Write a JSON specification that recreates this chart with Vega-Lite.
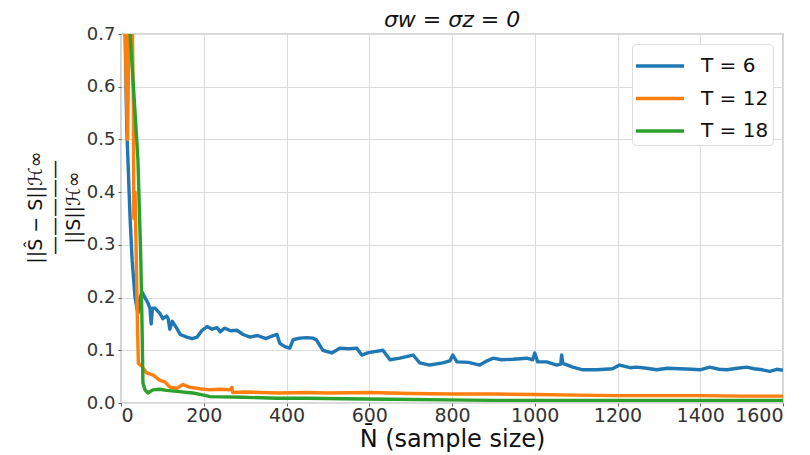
{
  "$schema": "https://vega.github.io/schema/vega-lite/v6.json",
  "width": 662,
  "height": 369,
  "autosize": {"type": "none"},
  "padding": {"left": 121, "top": 34, "right": 27, "bottom": 52},
  "background": "white",
  "title": {"text": "σw = σz = 0", "font": "DejaVu Sans", "fontSize": 22, "fontWeight": "normal", "fontStyle": "italic", "color": "#111", "anchor": "middle", "offset": -7},
  "config": {
    "font": "DejaVu Sans",
    "view": {"stroke": "#666", "strokeWidth": 1.2},
    "axis": {"domain": false, "grid": true, "gridColor": "#dcdcdc", "gridWidth": 1, "tickColor": "#666", "tickSize": 3, "labelFont": "DejaVu Sans", "labelColor": "#333", "titleFont": "DejaVu Sans", "titleFontWeight": "normal", "titleColor": "#111"}
  },
  "data": {"values": [
    {"N":5,"T":"T = 6","v":0.95},{"N":10,"T":"T = 6","v":0.7},{"N":14,"T":"T = 6","v":0.52},{"N":22,"T":"T = 6","v":0.35},{"N":27,"T":"T = 6","v":0.27},{"N":34,"T":"T = 6","v":0.2},{"N":41,"T":"T = 6","v":0.17},{"N":46,"T":"T = 6","v":0.2},{"N":51,"T":"T = 6","v":0.21},{"N":58,"T":"T = 6","v":0.2},{"N":65,"T":"T = 6","v":0.19},{"N":70,"T":"T = 6","v":0.18},{"N":73,"T":"T = 6","v":0.15},{"N":76,"T":"T = 6","v":0.18},{"N":82,"T":"T = 6","v":0.18},{"N":94,"T":"T = 6","v":0.17},{"N":101,"T":"T = 6","v":0.16},{"N":110,"T":"T = 6","v":0.165},{"N":114,"T":"T = 6","v":0.16},{"N":118,"T":"T = 6","v":0.14},{"N":124,"T":"T = 6","v":0.155},{"N":128,"T":"T = 6","v":0.15},{"N":136,"T":"T = 6","v":0.14},{"N":143,"T":"T = 6","v":0.13},{"N":159,"T":"T = 6","v":0.125},{"N":172,"T":"T = 6","v":0.122},{"N":184,"T":"T = 6","v":0.125},{"N":196,"T":"T = 6","v":0.138},{"N":208,"T":"T = 6","v":0.145},{"N":220,"T":"T = 6","v":0.14},{"N":232,"T":"T = 6","v":0.143},{"N":240,"T":"T = 6","v":0.135},{"N":250,"T":"T = 6","v":0.142},{"N":265,"T":"T = 6","v":0.137},{"N":280,"T":"T = 6","v":0.138},{"N":295,"T":"T = 6","v":0.13},{"N":312,"T":"T = 6","v":0.125},{"N":330,"T":"T = 6","v":0.128},{"N":350,"T":"T = 6","v":0.122},{"N":365,"T":"T = 6","v":0.127},{"N":377,"T":"T = 6","v":0.13},{"N":384,"T":"T = 6","v":0.113},{"N":396,"T":"T = 6","v":0.107},{"N":408,"T":"T = 6","v":0.104},{"N":416,"T":"T = 6","v":0.12},{"N":432,"T":"T = 6","v":0.123},{"N":450,"T":"T = 6","v":0.124},{"N":464,"T":"T = 6","v":0.123},{"N":472,"T":"T = 6","v":0.12},{"N":488,"T":"T = 6","v":0.1},{"N":509,"T":"T = 6","v":0.095},{"N":529,"T":"T = 6","v":0.104},{"N":550,"T":"T = 6","v":0.103},{"N":570,"T":"T = 6","v":0.104},{"N":582,"T":"T = 6","v":0.091},{"N":596,"T":"T = 6","v":0.095},{"N":609,"T":"T = 6","v":0.097},{"N":633,"T":"T = 6","v":0.1},{"N":650,"T":"T = 6","v":0.082},{"N":674,"T":"T = 6","v":0.085},{"N":690,"T":"T = 6","v":0.088},{"N":706,"T":"T = 6","v":0.091},{"N":722,"T":"T = 6","v":0.076},{"N":746,"T":"T = 6","v":0.072},{"N":778,"T":"T = 6","v":0.076},{"N":795,"T":"T = 6","v":0.08},{"N":802,"T":"T = 6","v":0.091},{"N":812,"T":"T = 6","v":0.078},{"N":840,"T":"T = 6","v":0.077},{"N":867,"T":"T = 6","v":0.072},{"N":885,"T":"T = 6","v":0.08},{"N":899,"T":"T = 6","v":0.085},{"N":920,"T":"T = 6","v":0.082},{"N":947,"T":"T = 6","v":0.083},{"N":981,"T":"T = 6","v":0.085},{"N":995,"T":"T = 6","v":0.082},{"N":1000,"T":"T = 6","v":0.095},{"N":1007,"T":"T = 6","v":0.078},{"N":1029,"T":"T = 6","v":0.078},{"N":1053,"T":"T = 6","v":0.072},{"N":1063,"T":"T = 6","v":0.074},{"N":1065,"T":"T = 6","v":0.091},{"N":1068,"T":"T = 6","v":0.075},{"N":1092,"T":"T = 6","v":0.068},{"N":1116,"T":"T = 6","v":0.063},{"N":1150,"T":"T = 6","v":0.063},{"N":1188,"T":"T = 6","v":0.065},{"N":1205,"T":"T = 6","v":0.072},{"N":1230,"T":"T = 6","v":0.067},{"N":1246,"T":"T = 6","v":0.068},{"N":1270,"T":"T = 6","v":0.066},{"N":1295,"T":"T = 6","v":0.063},{"N":1320,"T":"T = 6","v":0.066},{"N":1350,"T":"T = 6","v":0.065},{"N":1380,"T":"T = 6","v":0.064},{"N":1399,"T":"T = 6","v":0.063},{"N":1423,"T":"T = 6","v":0.068},{"N":1445,"T":"T = 6","v":0.064},{"N":1464,"T":"T = 6","v":0.063},{"N":1490,"T":"T = 6","v":0.066},{"N":1512,"T":"T = 6","v":0.068},{"N":1530,"T":"T = 6","v":0.065},{"N":1550,"T":"T = 6","v":0.063},{"N":1568,"T":"T = 6","v":0.06},{"N":1585,"T":"T = 6","v":0.064},{"N":1600,"T":"T = 6","v":0.062},

    {"N":8,"T":"T = 12","v":0.9},{"N":12,"T":"T = 12","v":0.62},{"N":16,"T":"T = 12","v":0.5},{"N":20,"T":"T = 12","v":0.75},{"N":27,"T":"T = 12","v":0.75},{"N":30,"T":"T = 12","v":0.55},{"N":31,"T":"T = 12","v":0.35},{"N":34,"T":"T = 12","v":0.4},{"N":37,"T":"T = 12","v":0.27},{"N":40,"T":"T = 12","v":0.14},{"N":42,"T":"T = 12","v":0.075},{"N":50,"T":"T = 12","v":0.07},{"N":62,"T":"T = 12","v":0.057},{"N":78,"T":"T = 12","v":0.053},{"N":94,"T":"T = 12","v":0.043},{"N":106,"T":"T = 12","v":0.04},{"N":118,"T":"T = 12","v":0.03},{"N":135,"T":"T = 12","v":0.028},{"N":150,"T":"T = 12","v":0.035},{"N":165,"T":"T = 12","v":0.03},{"N":190,"T":"T = 12","v":0.027},{"N":215,"T":"T = 12","v":0.025},{"N":240,"T":"T = 12","v":0.026},{"N":263,"T":"T = 12","v":0.025},{"N":268,"T":"T = 12","v":0.03},{"N":270,"T":"T = 12","v":0.02},{"N":300,"T":"T = 12","v":0.021},{"N":336,"T":"T = 12","v":0.02},{"N":384,"T":"T = 12","v":0.019},{"N":450,"T":"T = 12","v":0.02},{"N":500,"T":"T = 12","v":0.019},{"N":600,"T":"T = 12","v":0.02},{"N":700,"T":"T = 12","v":0.018},{"N":800,"T":"T = 12","v":0.017},{"N":900,"T":"T = 12","v":0.017},{"N":1000,"T":"T = 12","v":0.016},{"N":1100,"T":"T = 12","v":0.015},{"N":1200,"T":"T = 12","v":0.014},{"N":1300,"T":"T = 12","v":0.014},{"N":1400,"T":"T = 12","v":0.014},{"N":1500,"T":"T = 12","v":0.013},{"N":1600,"T":"T = 12","v":0.013},

    {"N":18,"T":"T = 18","v":0.9},{"N":22,"T":"T = 18","v":0.7},{"N":30,"T":"T = 18","v":0.6},{"N":38,"T":"T = 18","v":0.5},{"N":41,"T":"T = 18","v":0.46},{"N":45,"T":"T = 18","v":0.35},{"N":48,"T":"T = 18","v":0.27},{"N":51,"T":"T = 18","v":0.14},{"N":53,"T":"T = 18","v":0.038},{"N":58,"T":"T = 18","v":0.025},{"N":65,"T":"T = 18","v":0.019},{"N":77,"T":"T = 18","v":0.025},{"N":94,"T":"T = 18","v":0.026},{"N":110,"T":"T = 18","v":0.024},{"N":135,"T":"T = 18","v":0.022},{"N":174,"T":"T = 18","v":0.019},{"N":200,"T":"T = 18","v":0.015},{"N":215,"T":"T = 18","v":0.012},{"N":295,"T":"T = 18","v":0.011},{"N":377,"T":"T = 18","v":0.009},{"N":450,"T":"T = 18","v":0.009},{"N":540,"T":"T = 18","v":0.008},{"N":650,"T":"T = 18","v":0.007},{"N":787,"T":"T = 18","v":0.006},{"N":900,"T":"T = 18","v":0.005},{"N":1100,"T":"T = 18","v":0.005},{"N":1300,"T":"T = 18","v":0.005},{"N":1600,"T":"T = 18","v":0.005}
  ]},
  "mark": {"type": "line", "clip": true, "strokeWidth": 3.4, "strokeJoin": "round"},
  "encoding": {
    "x": {"field": "N", "type": "quantitative", "scale": {"domain": [0, 1600], "nice": false}, "axis": {"values": [0,200,400,600,800,1000,1200,1400,1600], "format": "d", "labelFontSize": 19, "title": "N̄ (sample size)", "titleFontSize": 24, "titlePadding": 2, "labelPadding": 0}},
    "y": {"field": "v", "type": "quantitative", "scale": {"domain": [0, 0.7], "nice": false}, "axis": {"values": [0,0.1,0.2,0.3,0.4,0.5,0.6,0.7], "format": ".1f", "labelFontSize": 18, "labelPadding": 3, "title": ["||Ŝ − S||ℋ∞", "—————", "||S||ℋ∞"], "titleFontSize": 19, "titleLineHeight": 19, "titleAngle": -90, "titleX": -86, "titleY": 173, "titleAlign": "center", "titleBaseline": "middle"}},
    "color": {"field": "T", "type": "nominal", "scale": {"domain": ["T = 6", "T = 12", "T = 18"], "range": ["#1f77b4", "#ff7f0e", "#2ca02c"]},
      "legend": {"title": null, "orient": "top-right", "offset": 10, "symbolType": "M-1.5,0H1.5", "symbolSize": 1024, "symbolStrokeWidth": 3.5, "symbolOffset": 6, "labelFontSize": 20, "labelColor": "#111", "labelFont": "DejaVu Sans", "labelExpr": "datum.label + '\u00a0\u00a0\u00a0\u00a0'", "rowPadding": 4.5, "padding": 4, "strokeColor": "#dddddd", "fillColor": "white", "cornerRadius": 4, "labelOffset": 23}},
    "order": {"field": "N", "type": "quantitative"}
  }
}
